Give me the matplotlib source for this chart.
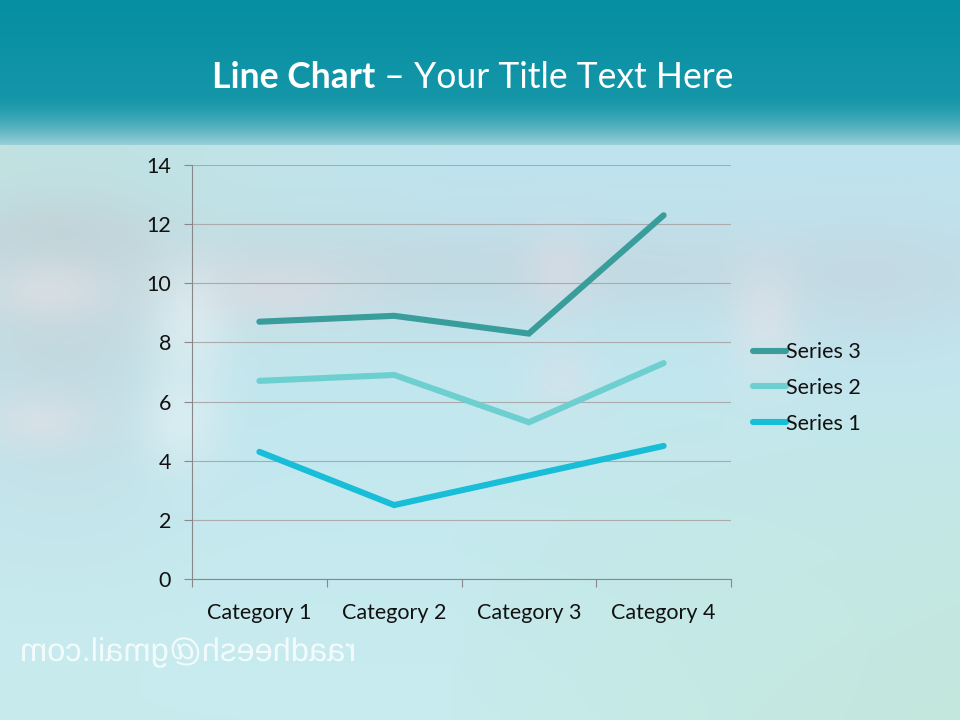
import numpy as np
import matplotlib
matplotlib.use("Agg")
import matplotlib.pyplot as plt
from matplotlib.patheffects import AbstractPathEffect
from matplotlib.transforms import Affine2D

categories = ["Category 1", "Category 2", "Category 3", "Category 4"]
series1 = [4.3, 2.5, 3.5, 4.5]
series2 = [6.7, 6.9, 5.3, 7.3]
series3 = [8.7, 8.9, 8.3, 12.3]
yticks = [0, 2, 4, 6, 8, 10, 12, 14]

plt.rcParams['font.family'] = ['Lato', 'DejaVu Sans']

fig = plt.figure(figsize=(9.6, 7.2), dpi=100)

# ---- background ----
W, H = 960, 720
yy, xx = np.mgrid[0:H, 0:W].astype(float)
img = np.zeros((H, W, 3))
top = np.array([0xBE, 0xE3, 0xEF]) / 255
bot = np.array([0xC8, 0xEC, 0xEE]) / 255
t = np.clip((yy - 145) / (H - 145), 0, 1)[..., None]
img[:] = top * (1 - t) + bot * t
green = np.array([0xC2, 0xE6, 0xD8]) / 255
g = np.clip(((xx - 450) / 510) * ((yy - 380) / 340), 0, 1)[..., None] ** 0.7
img = img * (1 - 0.8 * g) + green * 0.8 * g

def blob(cx, cy, sx, sy, col, a):
    global img
    w = a * np.exp(-(((xx - cx) / sx) ** 2 + ((yy - cy) / sy) ** 2))[..., None]
    img = img * (1 - w) + np.array(col) * w

gray = (0.77, 0.82, 0.85)
blob(480, 270, 600, 55, gray, 0.55)
blob(60, 330, 120, 160, gray, 0.6)
blob(60, 230, 90, 35, (0.76, 0.80, 0.82), 0.4)
blob(50, 290, 60, 30, (0.90, 0.89, 0.91), 0.55)
blob(40, 420, 55, 30, (0.90, 0.89, 0.91), 0.5)
blob(190, 320, 40, 60, (0.92, 0.96, 0.97), 0.55)
blob(180, 420, 40, 50, (0.92, 0.96, 0.97), 0.5)
blob(280, 290, 80, 35, (0.90, 0.86, 0.89), 0.5)
blob(560, 270, 35, 40, (0.90, 0.87, 0.90), 0.45)
blob(560, 380, 35, 35, (0.90, 0.87, 0.90), 0.35)
blob(765, 320, 35, 60, (0.91, 0.89, 0.91), 0.55)
blob(880, 290, 100, 70, (0.78, 0.83, 0.87), 0.35)

# header band
hdr_top = np.array([0x05, 0x8E, 0xA2]) / 255
hdr_mid = np.array([0x14, 0x96, 0xA8]) / 255
hdr_bot = np.array([0x9C, 0xD0, 0xDA]) / 255
for r in range(0, 145):
    if r < 95:
        c = hdr_top * (1 - r / 95) + hdr_mid * (r / 95)
    else:
        s = ((r - 95) / 50) ** 1.6
        c = hdr_mid * (1 - s) + hdr_bot * s
    img[r, :, :] = c

bg = fig.add_axes([0, 0, 1, 1])
bg.imshow(np.clip(img, 0, 1), aspect='auto', extent=(0, 1, 0, 1), zorder=0)
bg.set_axis_off()

# ---- title ----
t1 = fig.text(212 / 960, 1 - 88 / 720, "Line Chart", color='white',
              fontsize=25.6, fontweight='bold', va='baseline', ha='left')
fig.canvas.draw()
bb = t1.get_window_extent()
fig.text(bb.x1 / 960, 1 - 88 / 720, " \u2013 Your Title Text Here", color='white',
         fontsize=25.6, va='baseline', ha='left')

# ---- chart ----
ax = fig.add_axes([192 / 960, 1 - 579 / 720, (731 - 192) / 960, (579 - 165) / 720])
ax.patch.set_alpha(0)
x = np.arange(len(categories))
lw = 4.4
ax.plot(x, series3, color='#389D9B', lw=lw, solid_capstyle='round', solid_joinstyle='miter', label='Series 3', zorder=3)
ax.plot(x, series2, color='#6DCFCF', lw=lw, solid_capstyle='round', solid_joinstyle='miter', label='Series 2', zorder=3)
ax.plot(x, series1, color='#18BDD7', lw=lw, solid_capstyle='round', solid_joinstyle='miter', label='Series 1', zorder=3)

ax.set_xlim(-0.5, len(categories) - 0.5)
ax.set_ylim(0, 14)
ax.set_yticks(yticks)
ax.set_yticklabels([str(v) for v in yticks])
ax.yaxis.grid(True, color='#ABABAB', lw=0.8)
ax.set_axisbelow(True)
ax.set_xticks(x)
ax.set_xticklabels(categories)
ax.set_xticks(np.arange(len(categories) + 1) - 0.5, minor=True)
ax.tick_params(axis='x', which='major', length=0, pad=17, labelsize=15.5, labelcolor='#111111')
ax.tick_params(axis='x', which='minor', length=6, direction='out', color='#888888', width=0.8)
ax.tick_params(axis='y', length=6, direction='out', color='#888888', width=0.8, labelsize=15.5,
               labelcolor='#111111', pad=9)
for s in ['top', 'right']:
    ax.spines[s].set_visible(False)
for s in ['left', 'bottom']:
    ax.spines[s].set_color('#888888')
    ax.spines[s].set_linewidth(0.8)

leg = fig.legend(loc='center left', bbox_to_anchor=(734 / 960, 1 - 388 / 720), frameon=False,
                 fontsize=15.5, handlelength=1.5, handletextpad=0.0, labelspacing=0.74)
for txt in leg.get_texts():
    txt.set_color('#111111')

# ---- mirrored watermark ----
class Mirror(AbstractPathEffect):
    def draw_path(self, renderer, gc, tpath, affine, rgbFace=None):
        ext = tpath.get_extents(affine)
        cx = (ext.x0 + ext.x1) / 2
        m = Affine2D().translate(-cx, 0).scale(-1, 1).translate(cx, 0)
        renderer.draw_path(gc, tpath, affine + m, rgbFace)

wm = fig.text(20 / 960, 1 - 661 / 720, "raadheesh@gmail.com", color='white', alpha=0.8,
              fontsize=23.5, family=['Liberation Sans', 'DejaVu Sans'], va='baseline', ha='left')
wm.set_path_effects([Mirror()])

fig.savefig("out.png", dpi=100)
